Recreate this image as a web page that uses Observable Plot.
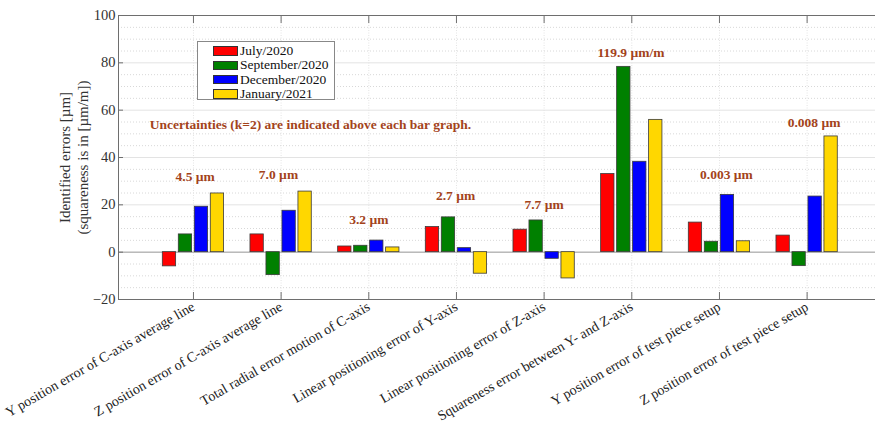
<!DOCTYPE html>
<html>
<head>
<meta charset="utf-8">
<script src="https://cdn.jsdelivr.net/npm/d3@7"></script>
<script src="https://cdn.jsdelivr.net/npm/@observablehq/plot@0.6"></script>
<style>
  html, body { margin: 0; padding: 0; background: #fff; }
  #wrap { position: relative; width: 875px; height: 428px; overflow: hidden; }
  #legend { position: absolute; left: 197px; top: 41px; width: 138px; height: 59px; border: 1px solid #888;
    background: #fff; box-sizing: border-box; padding: 2px 0 0 15px; font-family: "Liberation Serif", "Times New Roman", serif; font-size: 13.5px; color: #111; }
  #legend .row { display: flex; align-items: center; height: 14.3px; }
  #legend .sw { width: 25px; height: 9.5px; border: 0.8px solid #333; margin-right: 2px; box-sizing: border-box; }
</style>
</head>
<body>
<div id="wrap"><div id="legend"></div></div>
<script>
const categories = [
  "Y position error of C-axis average line",
  "Z position error of C-axis average line",
  "Total radial error motion of C-axis",
  "Linear positioning error of Y-axis",
  "Linear positioning error of Z-axis",
  "Squareness error between Y- and Z-axis",
  "Y position error of test piece setup",
  "Z position error of test piece setup"
];
const seriesNames = ["July/2020", "September/2020", "December/2020", "January/2021"];
const seriesColors = ["#ff0000", "#008000", "#0000ff", "#ffd700"];
const july2020 = [-6.0, 7.5, 2.4, 10.6, 9.5, 33.0, 12.5, 7.0];
const sept2020 = [7.5, -9.7, 2.7, 14.7, 13.4, 78.3, 4.4, -5.9];
const dec2020 = [19.2, 17.5, 4.9, 1.7, -2.8, 38.2, 24.2, 23.5];
const jan2021 = [24.8, 25.6, 2.0, -9.1, -11.1, 55.9, 4.6, 48.9];
const uncertaintyLabels = ["4.5 µm", "7.0 µm", "3.2 µm", "2.7 µm", "7.7 µm", "119.9 µm/m", "0.003 µm", "0.008 µm"];
const uncertaintyAt = [32.1, 32.8, 13.8, 23.7, 20.0, 84.5, 32.7, 54.7];
const uncertaintyPos = [1.02, 1.97, 3.0, 3.99, 5.0, 5.99, 7.08, 8.08];
const note = "Uncertainties (k=2) are indicated above each bar graph.";
const yTicks = [-20, 0, 20, 40, 60, 80, 100];

const serif = '"Liberation Serif", "Times New Roman", serif';
const allSeries = [july2020, sept2020, dec2020, jan2021];
const step = 0.1824, bw = 0.152;
const bars = [];
allSeries.forEach((vals, s) => vals.forEach((v, i) => bars.push({
  series: seriesNames[s], pos: i + 1 + (s - 1.5) * step, value: v
})));
const notes = uncertaintyLabels.map((t, i) => ({text: t, x: uncertaintyPos[i], y: uncertaintyAt[i]}));
const minorTicks = d3.range(-20, 101, 5).filter(v => v % 20 !== 0);
const catTicks = categories.map((c, i) => i + 1);
const brown = "#a3431b";

const chart = Plot.plot({
  width: 875,
  height: 428,
  marginLeft: 118,
  marginRight: 0,
  marginTop: 15,
  marginBottom: 129,
  style: {fontFamily: serif, background: "transparent", overflow: "visible"},
  x: {type: "linear", domain: [0.145, 8.78], axis: null, label: null},
  y: {domain: [-20, 100], axis: null, label: null},
  color: {domain: seriesNames, range: seriesColors},
  marks: [
    Plot.gridY(minorTicks, {stroke: "#d8d8d8", strokeOpacity: 1, strokeDasharray: "1,2"}),
    Plot.gridY(yTicks, {stroke: "#e3e3e3", strokeOpacity: 1}),
    Plot.gridX(catTicks, {stroke: "#e3e3e3", strokeOpacity: 1, strokeDasharray: "1,1.5"}),
    Plot.ruleY([0], {stroke: "#a0a0a0"}),
    Plot.rectY(bars, {x1: d => d.pos - bw / 2, x2: d => d.pos + bw / 2, y1: 0, y2: "value",
      fill: "series", stroke: "#3a3a3a", strokeWidth: 0.8}),
    Plot.ruleY([-20, 100], {stroke: "#6e6e6e", strokeWidth: 1}),
    Plot.ruleX([0.145], {stroke: "#6e6e6e", strokeWidth: 1}),
    Plot.axisX(catTicks, {anchor: "bottom", label: null, tickSize: -7, tickFormat: () => "", stroke: "#6e6e6e"}),
    Plot.axisX(catTicks, {anchor: "top", label: null, tickSize: -7, tickFormat: () => "", stroke: "#6e6e6e"}),
    Plot.axisX(catTicks, {anchor: "bottom", label: null, tickSize: 0, tickPadding: 6, tickRotate: -30,
      tickFormat: i => categories[i - 1], fontSize: 14, fill: "#222"}),
    Plot.axisY(yTicks, {anchor: "left", label: null, tickSize: -5, tickPadding: 8, fontSize: 14.5, fill: "#333", stroke: "#6e6e6e"}),
    Plot.text(["Identified errors [µm]\n(squareness is in [µm/m])"], {frameAnchor: "left", textAnchor: "middle",
      lineAnchor: "middle", rotate: -90, dx: -45, fontSize: 15, fill: "#333", lineHeight: 1.2}),
    Plot.text(notes, {x: "x", y: "y", text: "text", fill: brown, fontWeight: "bold", fontSize: 13.5}),
    Plot.text([note], {x: 2.334, y: 53.8, fill: brown, fontWeight: "bold", fontSize: 13.5})
  ]
});
document.getElementById("wrap").prepend(chart);

const legend = document.getElementById("legend");
seriesNames.forEach((n, i) => {
  const row = document.createElement("div");
  row.className = "row";
  const sw = document.createElement("div");
  sw.className = "sw";
  sw.style.background = seriesColors[i];
  const lab = document.createElement("span");
  lab.textContent = n;
  row.appendChild(sw);
  row.appendChild(lab);
  legend.appendChild(row);
});
</script>
</body>
</html>
